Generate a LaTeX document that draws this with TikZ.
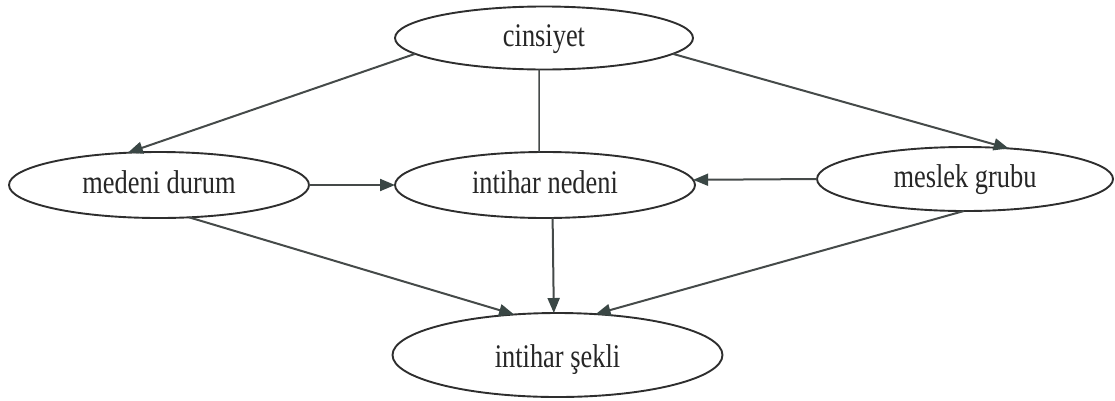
\documentclass[tikz,border=0pt]{standalone}
\usepackage{fontspec}
\setmainfont{Liberation Serif}[FakeStretch=0.8]
\usetikzlibrary{arrows.meta,shapes.geometric}
\definecolor{inkline}{HTML}{454A49}
\definecolor{inkhead}{HTML}{3A4745}
\definecolor{inkoval}{HTML}{2E2E2E}
\definecolor{inktext}{HTML}{262626}
\tikzset{
  oval/.style={ellipse, draw=inkoval, line width=1.9pt, inner sep=0pt, outer sep=0pt,
    text=inktext, font=\fontsize{33}{36}\selectfont, text height=20pt, text depth=3pt},
  link/.style={draw=inkline, line width=2pt,
    -{Triangle[length=15pt,width=12pt,fill=inkhead,color=inkhead]}},
  plainlink/.style={draw=inkline, line width=1.5pt}
}
\begin{document}
\begin{tikzpicture}[x=1pt,y=-1pt]
\useasboundingbox (0,0) rectangle (1115,400);

% variables
\node[oval, minimum width=298pt, minimum height=63pt] (cin) at (544,38) {cinsiyet};
\node[oval, minimum width=300pt, minimum height=66pt] (med) at (159,185) {medeni durum};
\node[oval, minimum width=300pt, minimum height=66pt] (ned) at (545,185) {intihar nedeni};
\node[oval, minimum width=296pt, minimum height=64pt] (mes) at (965,179) {meslek grubu};
\node[oval, minimum width=330pt, minimum height=84pt, text height=27pt, text depth=2pt]
  (sek) at (557.5,355) {intihar şekli};

% relations
\draw[link] (cin.187.8) -- (med.134);
\draw[link] (cin.353.7) -- (mes.35.4);
\draw[plainlink] (cin.261) -- (ned.100.3);
\draw[link] (med.east) -- (ned.west);
\draw[link] (mes.west) -- (ned.2.7);
\draw[link] (med.313) -- (sek.137);
\draw[link] (ned.283.6) -- (sek.95.4);
\draw[link] (mes.268) -- (sek.47);
\end{tikzpicture}
\end{document}
